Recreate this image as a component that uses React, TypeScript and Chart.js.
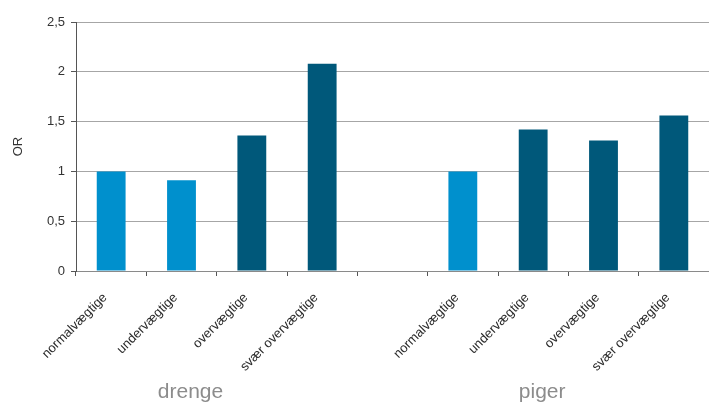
import React, { useEffect, useRef } from 'react';
import { Chart, registerables } from 'chart.js';

Chart.register(...registerables);

const LIGHT = '#0090cd';
const DARK = '#00587a';

const categories = [
  'normalvægtige',
  'undervægtige',
  'overvægtige',
  'svær overvægtige',
  '',
  'normalvægtige',
  'undervægtige',
  'overvægtige',
  'svær overvægtige',
];
const orValues: (number | null)[] = [1.0, 0.91, 1.36, 2.08, null, 1.0, 1.42, 1.31, 1.56];
const barColors = [LIGHT, LIGHT, DARK, DARK, LIGHT, LIGHT, DARK, DARK, DARK];
const groupLabels = ['drenge', 'piger'];
const groupAnchorIndex = [1, 6];
const yMin = 0;
const yMax = 2.5;
const yStep = 0.5;
const yTitle = 'OR';

const FONT = '"Liberation Sans", Arial, sans-serif';

const groupLabelPlugin = {
  id: 'groupLabels',
  afterDraw(chart: any) {
    const { ctx } = chart;
    const xs = chart.scales.x;
    ctx.save();
    ctx.font = `21px ${FONT}`;
    ctx.fillStyle = '#8c8c8c';
    ctx.textAlign = 'center';
    ctx.textBaseline = 'alphabetic';
    groupLabels.forEach((lbl, i) => {
      const x = xs.getPixelForValue(groupAnchorIndex[i]) + 9;
      ctx.fillText(lbl, x, chart.height - 5);
    });
    ctx.restore();
  },
};

export default function App() {
  const ref = useRef<HTMLCanvasElement | null>(null);
  useEffect(() => {
    document.body.style.margin = '0';
    const chart = new Chart(ref.current as HTMLCanvasElement, {
      type: 'bar',
      data: {
        labels: categories,
        datasets: [
          {
            data: orValues,
            backgroundColor: barColors,
            borderWidth: 0,
            barPercentage: 1,
            categoryPercentage: 0.41,
          },
        ],
      },
      options: {
        responsive: false,
        animation: false,
        devicePixelRatio: 1,
        layout: { padding: { top: 22, right: 0, left: 0, bottom: 0 } },
        plugins: {
          legend: { display: false },
          tooltip: { enabled: false },
        },
        scales: {
          x: {
            afterFit: (s: any) => {
              s.height = 132;
            },
            grid: {
              display: true,
              drawOnChartArea: false,
              offset: true,
              tickLength: 5,
              tickColor: '#555555',
            },
            border: { color: '#8a8a8a', width: 1 },
            ticks: {
              autoSkip: false,
              maxRotation: 45,
              minRotation: 45,
              padding: 14,
              labelOffset: -6,
              color: '#2a2a2a',
              font: { family: FONT, size: 13 },
            },
          },
          y: {
            min: yMin,
            max: yMax,
            afterFit: (s: any) => {
              s.width = 76;
            },
            grid: {
              color: '#a6a6a6',
              tickLength: 5,
              tickColor: '#555555',
            },
            border: { color: '#555555', width: 1 },
            ticks: {
              stepSize: yStep,
              padding: 6,
              color: '#333333',
              font: { family: FONT, size: 13 },
              callback: (v: any) => String(v).replace('.', ','),
            },
            title: {
              display: true,
              text: yTitle,
              color: '#333333',
              font: { family: FONT, size: 13 },
              padding: { top: 11, bottom: 0 },
            },
          },
        },
      },
      plugins: [groupLabelPlugin],
    } as any);
    return () => chart.destroy();
  }, []);
  return (
    <div style={{ width: 709, height: 403 }}>
      <canvas ref={ref} width={709} height={403} />
    </div>
  );
}
